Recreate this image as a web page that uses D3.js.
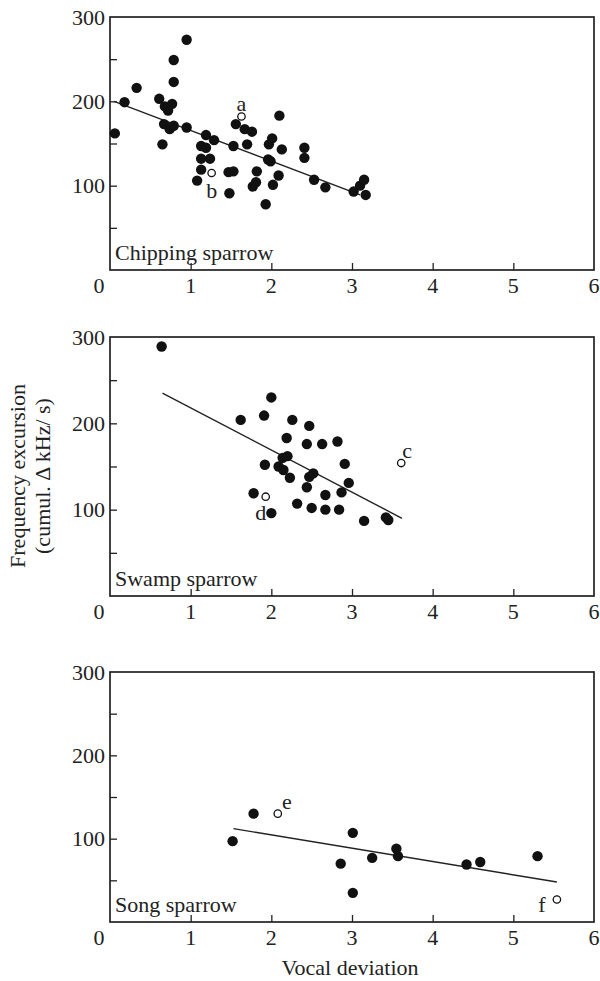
<!DOCTYPE html>
<html><head><meta charset="utf-8">
<script src="https://cdn.jsdelivr.net/npm/d3@7"></script>
<style>body{margin:0;background:#fff}</style>
</head><body>
<svg id="c" width="600" height="981"></svg>
<script>
// ---- data ----
const species = ["Chipping sparrow", "Swamp sparrow", "Song sparrow"];
const xTicks = [0, 1, 2, 3, 4, 5, 6];
const yTickLabels = [100, 200, 300];
const yTicksMinor = [50, 100, 150, 200, 250];

const chippingFilled = [[0.06,162],[0.18,199],[0.33,216],[0.61,203],[0.68,194],[0.72,189],[0.77,197],[0.79,249],[0.79,223],[0.95,273],[0.67,173],[0.74,167],[0.79,171],[0.65,149],[0.95,169],[1.19,160],[1.29,154],[1.13,147],[1.19,145],[1.13,132],[1.24,132],[1.13,119],[1.08,106],[1.48,91],[1.47,116],[1.53,117],[1.53,147],[1.56,173],[1.67,167],[1.76,164],[1.70,149],[1.82,117],[1.77,99],[1.81,104],[1.93,78],[1.97,149],[2.01,156],[1.96,131],[1.99,129],[2.02,101],[2.10,183],[2.09,112],[2.13,143],[2.41,145],[2.41,133],[2.53,107],[2.67,98],[3.02,93],[3.10,100],[3.15,107],[3.17,89]];
const chippingOpen = [[1.63,182,"a"],[1.26,115,"b"]];
const chippingFit = [[0.05,200],[3.1,89]];

const swampFilled = [[0.64,289],[1.62,204],[1.91,209],[2.0,230],[2.26,204],[2.47,197],[2.19,183],[2.44,176],[2.63,176],[2.82,179],[2.14,160],[2.20,162],[1.92,152],[2.09,150],[2.15,146],[2.23,137],[2.47,138],[2.52,142],[2.44,126],[2.67,117],[2.87,120],[2.91,153],[2.96,131],[1.78,119],[2.32,107],[2.5,102],[2.67,100],[2.84,100],[2.0,96],[3.15,87],[3.42,91],[3.45,88]];
const swampOpen = [[3.61,154,"c"],[1.93,115,"d"]];
const swampFit = [[0.65,235],[3.62,90]];

const songFilled = [[1.52,97],[1.78,130],[3.01,107],[3.55,88],[3.57,79],[2.86,70],[3.25,77],[3.01,35],[4.42,69],[4.59,72],[5.30,79]];
const songOpen = [[2.08,130,"e"],[5.54,27,"f"]];
const songFit = [[1.53,112],[5.54,48]];

const xTitle = "Vocal deviation";
const yTitle1 = "Frequency excursion";
const yTitle2 = "(cumul. \u0394 kHz/ s)";

// ---- layout ----
const FONT = "'Liberation Serif', 'DejaVu Serif', serif";
const FS = 22;
const left = 110, right = 594;
const panelBox = [{top:17,bottom:270},{top:337,bottom:596},{top:672,bottom:922}];
const labelOffset = {a:[0,-13], b:[0,17], c:[6,-13], d:[-5,16], e:[9,-12], f:[-15,5]};

const datasets = [
  {filled: chippingFilled, open: chippingOpen, fit: chippingFit},
  {filled: swampFilled, open: swampOpen, fit: swampFit},
  {filled: songFilled, open: songOpen, fit: songFit}
];

const svg = d3.select("#c");
const x = d3.scaleLinear().domain([0,6]).range([left,right]);

datasets.forEach((ds, i) => {
  const pb = panelBox[i];
  const y = d3.scaleLinear().domain([0,300]).range([pb.bottom, pb.top]);
  const g = svg.append("g");

  const ya = d3.axisRight(y).tickValues(yTicksMinor).tickSize(7).tickFormat("");
  g.append("g").attr("transform",`translate(${left},0)`).call(ya)
    .call(s=>s.select(".domain").remove())
    .call(s=>s.selectAll("line").attr("stroke","#222").attr("stroke-width",1.3));
  const xa = d3.axisTop(x).tickValues([1,2,3,4,5]).tickSize(7).tickFormat("");
  g.append("g").attr("transform",`translate(0,${pb.bottom})`).call(xa)
    .call(s=>s.select(".domain").remove())
    .call(s=>s.selectAll("line").attr("stroke","#222").attr("stroke-width",1.3));

  g.append("rect").attr("x",left).attr("y",pb.top).attr("width",right-left).attr("height",pb.bottom-pb.top)
    .attr("fill","none").attr("stroke","#222").attr("stroke-width",1.7);

  g.selectAll(".yl").data(yTickLabels).enter().append("text")
    .attr("x",left-5).attr("y",d=>y(d)).attr("dy","0.35em")
    .attr("text-anchor","end").attr("font-family",FONT).attr("font-size",FS).attr("fill","#222")
    .text(d=>d);
  g.selectAll(".xl").data(xTicks).enter().append("text")
    .attr("x",d=> d===0 ? x(d)-11 : x(d)).attr("y",pb.bottom+23)
    .attr("text-anchor","middle").attr("font-family",FONT).attr("font-size",FS).attr("fill","#222")
    .text(d=>d);

  g.append("text").attr("x",left+5).attr("y",pb.bottom-10)
    .attr("font-family",FONT).attr("font-size",FS).attr("fill","#222").text(species[i]);

  g.append("line").attr("x1",x(ds.fit[0][0])).attr("y1",y(ds.fit[0][1]))
    .attr("x2",x(ds.fit[1][0])).attr("y2",y(ds.fit[1][1]))
    .attr("stroke","#222").attr("stroke-width",1.4);

  g.selectAll(".f").data(ds.filled).enter().append("circle")
    .attr("cx",d=>x(d[0])).attr("cy",d=>y(d[1])).attr("r",5.2).attr("fill","#111");
  g.selectAll(".o").data(ds.open).enter().append("circle")
    .attr("cx",d=>x(d[0])).attr("cy",d=>y(d[1])).attr("r",3.7)
    .attr("fill","#fff").attr("stroke","#111").attr("stroke-width",1.3);
  g.selectAll(".ol").data(ds.open).enter().append("text")
    .attr("x",d=>x(d[0])+labelOffset[d[2]][0]).attr("y",d=>y(d[1])+labelOffset[d[2]][1]).attr("dy","0.35em")
    .attr("text-anchor","middle").attr("font-family",FONT).attr("font-size",FS).attr("fill","#222")
    .text(d=>d[2]);
});

svg.append("text").attr("x",(left+right)/2 - 2).attr("y",975)
  .attr("text-anchor","middle").attr("font-family",FONT).attr("font-size",FS).attr("fill","#222").text(xTitle);
const yt = svg.append("text").attr("transform","translate(0,476) rotate(-90)")
  .attr("text-anchor","middle").attr("font-family",FONT).attr("font-size",FS).attr("fill","#222");
yt.append("tspan").attr("x",0).attr("y",25).text(yTitle1);
yt.append("tspan").attr("x",0).attr("y",50).text(yTitle2);
</script>
</body></html>
